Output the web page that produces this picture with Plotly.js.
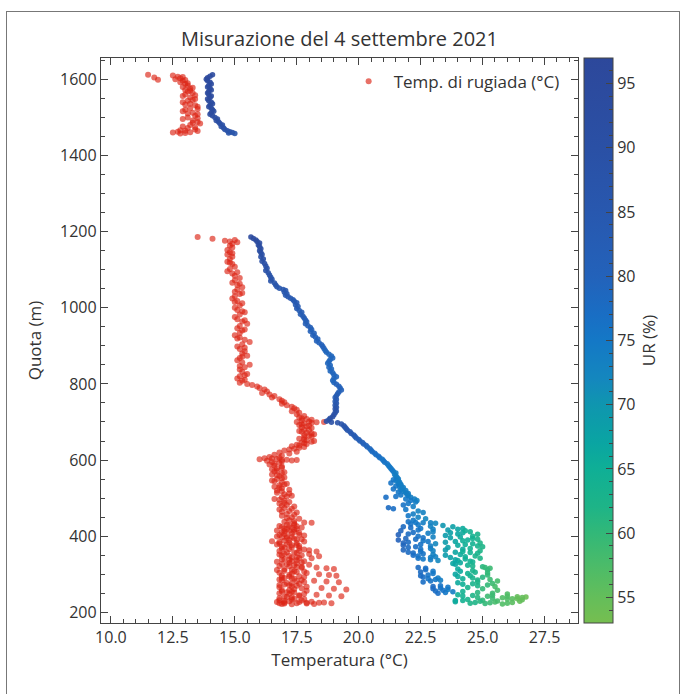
<!DOCTYPE html>
<html>
<head>
<meta charset="utf-8">
<script src="https://cdn.plot.ly/plotly-3.0.1.min.js"></script>
<style>
html,body{margin:0;padding:0;background:#fff;overflow:hidden;}
#chart{position:absolute;left:0;top:0;width:684px;height:694px;}
#frame{position:absolute;left:6px;top:11px;width:672px;height:700px;border:1px solid #777;pointer-events:none;}
</style>
</head>
<body>
<div id="chart"></div>
<div id="frame"></div>
<script>
// ---- Temperatura di rugiada (°C): [quota m, Td] ----
const rugiadaAlta = [
 [1612,11.5],[1605,11.75],[1599,11.9],
 [1610,12.5],[1607,12.7],[1603,12.8],[1600,12.6],[1596,12.9],[1592,12.8],[1588,13.0],[1584,13.1],
 [1580,12.9],[1576,13.2],[1572,13.0],[1568,13.1],[1564,13.3],[1560,13.0],[1556,12.9],[1552,13.2],
 [1548,13.4],[1544,13.1],[1540,12.9],[1536,13.2],[1532,13.4],[1528,13.5],[1524,13.2],[1520,13.0],
 [1516,12.9],[1512,13.3],[1508,13.5],[1504,13.4],[1500,13.1],[1496,12.9],[1492,13.3],[1488,13.5],
 [1484,13.6],[1480,13.2],[1476,12.9],[1472,13.1],[1468,13.4],[1465,13.0],[1462,12.7],[1460,12.5],
 [1458,12.8],[1461,13.2],[1464,13.5],
 [1606,12.9],[1598,13.0],[1590,13.1],[1578,13.3],[1570,13.2],[1558,13.4],[1546,13.3],[1534,13.0],
 [1522,13.5],[1510,13.1],[1498,13.5],[1486,13.3],[1474,13.4],[1466,12.8],[1459,13.0]
];
const rugiadaMedia = [
 [1186,13.5],[1181,14.1],[1176,14.6],[1178,15.0],[1172,15.1],[1168,14.9],[1163,14.8],[1158,14.9],
 [1152,14.7],[1146,14.8],[1140,14.7],[1134,14.9],[1128,14.8],[1121,14.7],[1115,14.9],[1108,15.0],
 [1102,14.8],[1096,14.7],[1090,14.9],[1084,15.0],[1078,15.2],[1072,15.0],[1066,14.9],[1060,15.1],
 [1054,15.3],[1048,15.1],[1042,15.0],[1036,15.2],[1030,15.0],[1024,14.9],[1018,15.1],[1012,15.3],
 [1006,15.2],[1000,15.0],[994,15.1],[988,15.4],[982,15.2],[976,15.0],[970,15.1],[964,15.3],
 [958,15.5],[952,15.2],[946,15.1],[940,15.3],[934,15.2],[928,15.0],[922,15.2],[916,15.4],
 [910,15.6],[904,15.3],[898,15.1],[892,15.2],[886,15.4],[880,15.3],[874,15.5],[868,15.2],
 [862,15.1],[856,15.3],[850,15.6],[844,15.4],[838,15.2],[832,15.3],[826,15.5],[820,15.2],
 [814,15.1],[808,15.3],[803,15.2],[800,15.5],[797,15.7],[793,15.9],[789,16.0],[785,16.2],
 [780,16.3],[776,16.1],[772,16.4],[768,16.6],[764,16.5],[760,16.8],[756,16.9],[752,17.0],
 [748,16.9],[744,17.1],[740,17.3],[736,17.4],[732,17.5],[728,17.3],[724,17.6],[720,17.5],
 [716,17.8],[712,17.6],[708,17.9],[704,17.7],[700,17.5],[701,18.0],[699,18.3],[700,18.6],
 [696,17.8],[692,17.6],[688,17.9],[684,18.1],[680,17.8],[676,17.6],[672,17.9],[668,18.2],
 [664,18.0],[660,17.8],[656,17.6],[652,17.9],[648,18.1],[644,17.8],[640,17.5],[636,17.3],
 [632,17.6],[628,17.2],[625,17.0],[622,17.5],[620,16.8],[617,17.2],[614,16.6],[611,16.9],
 [608,16.4],[605,16.2],[603,16.7],[601,17.1],[600,17.5],[598,16.3],[595,16.5],[592,16.8],
 [588,16.4],[585,16.6],[580,16.9],[576,16.5],[572,16.7],
 [1174,14.8],[1143,14.9],[1118,14.8],[1093,15.1],[1063,15.2],[1039,15.3],[1015,15.0],[991,15.3],
 [967,15.4],[943,15.4],[919,15.1],[895,15.4],[871,15.3],[847,15.2],[823,15.4],[811,15.4],
 [710,17.7],[706,18.1],[698,18.1],[694,17.7],[690,18.0],[686,17.7],[678,18.0],[674,17.7],
 [670,18.1],[666,17.8],[662,18.1],[654,17.8],[650,18.2],[646,17.7],[642,17.9],[638,17.6],
 [634,17.8],[630,17.4],[602,16.0],[604,16.5],[600,16.9],[599,17.3],[606,16.8],[596,16.9],
 [590,16.6],[583,16.9],[578,16.7]
];
const rugiadaBassa = [
 [570,16.6],[566,16.9],[562,16.5],[558,16.8],[554,17.0],[550,16.7],[546,16.5],[542,16.9],
 [538,17.1],[534,16.8],[530,16.6],[526,16.9],[522,17.2],[518,16.9],[514,16.7],[510,17.0],
 [506,17.3],[502,16.9],[498,16.6],[494,17.0],[490,17.2],[486,16.8],[482,17.1],[478,17.4],
 [474,17.0],[470,16.8],[466,17.2],[462,17.5],[458,17.1],[454,16.9],[450,17.3],[446,17.6],
 [442,17.2],[438,17.0],[435,18.1],[436,17.8],[434,17.4],[430,17.1],[426,17.5],[422,17.3],
 [420,17.0],[417,17.4],[414,17.2],[410,16.9],[407,17.3],[404,17.6],[400,17.1],[397,16.9],
 [394,17.4],[390,17.2],[387,16.5],[385,16.8],[382,17.5],[379,17.1],[376,17.3],[372,16.9],
 [369,17.6],[366,17.2],[363,18.0],[360,18.3],[357,17.4],[354,17.0],[350,17.7],[347,18.4],
 [344,17.3],[340,17.0],[337,17.5],[334,17.8],[330,17.2],[327,16.9],[324,17.4],[320,17.7],
 [318,18.3],[316,18.7],[314,19.0],[312,17.3],[309,17.0],[306,17.5],[303,17.9],[300,18.4],
 [298,18.8],[296,19.1],[294,17.2],[291,16.9],[288,17.4],[285,17.7],[283,18.2],[281,18.7],
 [279,19.2],[276,17.3],[273,17.0],[270,17.5],[267,17.9],[264,18.5],[262,19.0],[260,19.5],
 [258,17.2],[255,16.9],[252,17.4],[249,17.8],[246,18.3],[244,18.8],[242,19.3],[240,17.1],
 [237,16.8],[234,17.3],[231,17.7],[228,18.1],[226,17.0],[224,17.5],[222,16.9],[221,17.3],
 [223,17.9],[225,18.4],
 [428,17.2],[424,16.9],[419,17.5],[413,17.0],[409,17.6],[403,16.8],[398,17.3],[392,17.7],
 [388,17.0],[381,16.8],[377,17.5],[371,17.3],[367,16.9],[362,17.6],[358,17.1],[352,16.8],
 [348,17.2],[343,17.6],[339,16.9],[335,17.3],[331,17.7],[326,17.1],[322,16.8],[319,17.5],
 [313,17.0],[308,17.4],[304,16.8],[299,17.2],[295,17.6],[290,17.0],[286,16.8],[282,17.5],
 [277,17.1],[272,16.8],[268,17.3],[263,17.7],[259,16.9],[254,17.3],[250,16.8],[245,17.6],
 [241,17.0],[236,17.4],[232,16.8],[229,17.2],[227,17.6],[224,16.8],[223,17.0],
 [430,17.4],[427,16.8],[423,17.7],[418,17.1],[415,16.7],[411,17.4],[406,17.0],[402,17.8],
 [399,16.7],[395,17.1],[391,17.5],[386,17.8],[383,17.2],[378,16.7],[374,17.6],[370,17.0],
 [365,17.8],[361,16.8],[356,17.5],[353,18.0],[349,16.9],[345,17.5],[342,18.1],[338,17.2],
 [333,16.7],[329,17.5],[325,18.0],[321,17.2],[317,17.7],[311,16.7],[307,17.8],[302,17.3],
 [297,16.9],[293,17.8],[289,17.3],[284,16.9],[280,17.8],[275,17.6],[271,17.2],[266,16.8],
 [261,17.4],[257,17.9],[253,17.1],[248,17.2],[243,17.6],[239,17.3],[235,17.8],[230,17.0],
 [227,16.7],[225,17.9],[222,18.2],[226,18.6],[224,18.9],
 [568,17.0],[560,16.7],[552,16.9],[544,16.6],[536,17.0],[528,16.8],[520,16.7],[512,17.2],
 [504,17.1],[496,16.8],[488,17.0],[480,16.9],[472,17.3],[464,16.9],[456,17.4],[448,17.1],[440,17.4]
];

// ---- Temperatura (°C) con umidità relativa UR (%): [quota m, T, UR] ----
const ariaAlta = [
 [1612,14.1,95],[1608,14.0,95],[1604,13.9,96],[1600,13.85,96],[1596,13.9,95],[1592,14.0,95],
 [1588,14.05,94],[1584,13.95,95],[1580,13.9,95],[1576,14.0,94],[1572,14.05,94],[1568,13.95,95],
 [1564,13.9,95],[1560,13.95,94],[1556,14.05,94],[1552,14.0,94],[1548,13.9,95],[1544,13.95,94],
 [1540,14.05,93],[1536,14.1,93],[1532,14.0,94],[1528,13.95,94],[1524,14.05,93],[1520,14.1,93],
 [1516,14.15,93],[1512,14.05,93],[1508,14.0,94],[1504,14.1,93],[1500,14.2,92],[1496,14.3,92],
 [1492,14.25,92],[1488,14.35,91],[1484,14.4,91],[1480,14.5,90],[1476,14.45,90],[1472,14.55,90],
 [1468,14.6,89],[1465,14.7,89],[1462,14.8,88],[1460,14.9,88],[1458,15.0,87],[1459,14.75,88]
];
const ariaMedia = [
 [1186,15.65,95],[1182,15.75,95],[1178,15.85,94],[1174,15.9,94],[1170,16.0,93],[1165,15.95,93],
 [1160,16.0,93],[1155,16.05,92],[1150,16.0,92],[1145,16.05,92],[1140,16.1,91],[1134,16.05,91],
 [1128,16.15,91],[1122,16.1,90],[1116,16.2,90],[1110,16.25,90],[1104,16.3,89],[1098,16.25,89],
 [1092,16.35,89],[1086,16.4,88],[1080,16.45,88],[1075,16.5,88],[1070,16.45,88],[1065,16.6,87],
 [1060,16.65,87],[1055,16.7,87],[1051,16.8,86],[1048,16.95,86],[1045,17.05,86],[1041,17.0,86],
 [1037,17.1,85],[1033,17.05,85],[1029,17.15,85],[1025,17.25,85],[1021,17.35,84],[1017,17.4,84],
 [1013,17.5,84],[1008,17.45,84],[1003,17.55,84],[998,17.5,84],[993,17.6,83],[988,17.7,83],
 [983,17.65,83],[978,17.75,83],[973,17.8,83],[968,17.85,82],[963,17.9,82],[958,17.85,82],
 [953,17.95,82],[948,18.05,82],[943,18.1,81],[938,18.05,81],[933,18.2,81],[928,18.15,81],
 [923,18.25,81],[918,18.35,80],[913,18.3,80],[908,18.4,80],[903,18.5,80],[898,18.55,80],
 [893,18.6,80],[888,18.65,79],[883,18.7,79],[878,18.8,79],[873,18.9,79],[868,18.95,79],
 [864,18.85,79],[859,18.8,79],[854,18.75,79],[849,18.85,79],[844,18.8,79],[839,18.9,79],
 [834,18.85,79],[829,18.95,79],[824,19.0,79],[819,19.1,79],[814,19.0,79],[809,18.95,79],
 [804,19.0,79],[799,19.1,80],[794,19.2,80],[789,19.25,80],[784,19.3,81],[779,19.2,81],
 [774,19.15,82],[769,19.1,83],[764,19.05,83],[759,19.1,84],[754,19.05,84],[749,19.1,85],
 [744,19.05,86],[739,19.1,87],[734,19.05,88],[729,19.1,88],[724,19.05,89],[719,19.0,89],
 [714,18.95,90],[710,18.85,90],[706,18.8,90],[702,18.7,90],[699,18.9,90],[698,19.15,89],
 [695,19.3,88],[690,19.4,87],[686,19.45,87],[682,19.5,86],[678,19.55,86],[674,19.65,85],
 [670,19.7,85],[666,19.8,84],[662,19.85,84],[658,19.9,83],[654,20.0,82],[650,20.05,82],
 [646,20.15,81],[642,20.2,80],[638,20.3,80],[634,20.35,79],[630,20.45,79],[626,20.5,78],
 [622,20.55,78],[618,20.65,78],[614,20.7,77],[610,20.8,77],[606,20.85,77],[602,20.95,76],
 [598,21.0,76],[594,21.05,76],[590,21.15,76],[586,21.2,75],[582,21.25,75],[578,21.3,75],
 [574,21.35,75],[570,21.4,75],[566,21.5,74],[562,21.45,74],[558,21.5,74],[554,21.55,74],
 [550,21.6,74],[546,21.5,74],[542,21.65,74],[538,21.6,74],[534,21.7,74],[530,21.65,74],
 [526,21.75,74],[522,21.7,74],[518,21.8,74],[514,21.9,74],[510,21.95,74],[506,22.0,74],
 [502,22.1,74],[498,22.25,74],[494,22.35,73],
 [548,21.4,75],[544,21.6,74],[540,21.3,76],[536,21.7,74],[532,21.5,75],[528,21.8,74],
 [524,21.4,76],[520,21.9,74],[516,21.6,75],[512,22.0,74],[508,21.7,75],[504,21.5,76],[502,21.1,77]
];
const ariaBassa = [
 [498,21.9,75],[494,22.1,75],[490,22.3,74],[486,22.0,75],[482,21.8,76],[478,22.2,74],[475,21.2,78],
 [472,21.4,77],[470,21.9,75],[466,22.4,73],[462,22.6,73],[458,22.2,74],[454,22.0,75],[450,22.4,73],
 [446,22.7,72],[438,22.0,76],[436,22.3,75],[435,22.6,74],[435,22.9,73],[434,23.1,72],[432,22.1,76],
 [425,21.8,78],[420,22.5,75],[418,23.0,73],[414,21.7,79],[410,22.2,77],[408,22.8,74],[404,21.6,80],
 [400,22.4,76],[398,23.0,73],[394,21.9,79],[390,21.6,80],[388,22.6,75],[384,22.0,78],[380,23.1,72],
 [376,21.8,79],[372,22.3,77],[368,22.9,74],[364,21.8,79],[360,22.5,76],[356,22.2,77],[352,23.0,73],
 [348,22.4,76],[344,22.9,74],[340,22.6,75],[336,23.2,72],
 [428,23.4,70],[425,23.8,68],[420,24.2,66],[416,23.6,69],[412,24.5,64],[409,23.7,68],[409,24.2,66],
 [405,24.8,63],[402,23.5,69],[398,24.1,66],[394,24.6,64],[390,24.4,65],[386,23.9,67],[382,24.9,62],
 [378,24.3,65],[374,24.8,63],[370,23.6,68],[366,24.2,66],[362,24.9,62],[358,23.9,67],[357,24.5,64],
 [352,24.1,66],[348,24.7,63],[344,23.7,68],[340,24.3,65],[336,24.0,66],[332,24.6,64],
 [318,22.4,78],[312,22.7,77],[306,22.5,78],[302,23.0,75],[298,22.8,76],[293,22.6,77],[290,23.2,74],
 [286,23.1,75],[282,22.9,76],
 [268,23.0,78],[264,23.3,76],[260,23.6,74],[256,23.1,77],[252,23.5,75],
 [328,23.8,67],[324,24.4,64],[320,25.0,61],[316,25.3,59],[312,25.2,60],[308,24.1,66],[305,24.7,63],
 [300,23.9,67],[296,24.5,64],[292,25.0,61],[288,24.2,65],[285,24.8,62],[282,25.6,58],[278,24.0,66],
 [275,24.6,63],[272,25.2,60],
 [265,24.4,63],[262,25.0,60],[258,25.6,58],[255,24.2,64],[252,24.8,61],[250,25.4,59],[248,26.0,57],
 [246,24.0,65],[244,24.6,62],[242,25.2,59],[241,26.4,55],[240,26.75,54],[238,25.8,57],[236,26.2,56],
 [234,24.4,63],[232,25.0,60],[230,25.6,58],[229,26.5,55],[228,23.9,66],[226,24.7,62],[225,25.3,59],
 [224,26.0,57],
 [243,24.2,64],[239,24.8,61],[237,25.4,59],[235,26.0,57],[233,26.6,55],[231,24.2,64],[229,24.9,61],
 [227,25.5,58],[226,26.2,56],[224,24.5,62],[223,25.1,60],[222,25.8,57],[231,23.9,66],[236,26.4,55],
 [239,26.6,55],[242,26.0,57],[245,25.4,59],
 [418,24.0,67],[414,24.3,65],[406,24.0,67],[400,24.6,64],[396,23.7,68],[392,24.8,63],[388,24.2,65],
 [384,23.5,69],[380,24.6,64],[376,24.0,66],[372,25.0,62],[368,24.5,64],[364,23.5,69],[360,24.2,65],
 [355,24.8,63],[350,23.5,69],[346,24.3,65],[342,24.9,62],[338,23.9,67],[334,24.5,64],[330,24.1,66],
 [442,22.2,75],[430,22.4,75],[426,22.9,73],[422,22.1,77],[416,22.4,76],[412,23.0,73],[406,22.0,78],
 [396,22.6,76],[392,22.3,77],[386,22.8,75],[382,21.8,79],[378,22.5,76],[374,22.9,74],[370,22.0,78],
 [366,22.5,76],[362,23.0,73],[358,22.0,78],[354,22.6,76],[350,22.2,77],[346,23.1,73],[342,22.4,76],
 [338,22.9,74],
 [326,23.9,67],[322,24.6,63],[318,25.1,60],[314,24.0,66],[310,24.6,63],[304,25.2,60],[302,24.4,64],
 [298,25.2,60],[294,24.0,66],[290,24.6,63],[286,25.3,59],[280,24.8,62],[276,25.4,59],[274,24.2,65],
 [270,24.8,62],[268,25.5,58],
 [316,22.7,77],[308,23.0,75],[296,22.5,78],[288,22.8,76],[284,23.3,74],[280,22.6,77],[270,23.3,76],
 [266,23.6,75],[262,23.0,78],[258,23.4,76],[254,23.8,74],[250,23.2,77]
];

const xTicks = [10, 12.5, 15, 17.5, 20, 22.5, 25, 27.5];
const urTicks = [55, 60, 65, 70, 75, 80, 85, 90, 95];
const urMin = 53, urMax = 97;

const rug = rugiadaAlta.concat(rugiadaMedia, rugiadaBassa);
const aria = ariaAlta.concat(ariaMedia, ariaBassa);

const urScale = [
 [0,'rgb(118,190,80)'],[0.045,'rgb(100,190,90)'],[0.091,'rgb(80,188,102)'],[0.159,'rgb(50,184,120)'],
 [0.205,'rgb(30,180,135)'],[0.273,'rgb(15,175,150)'],[0.318,'rgb(10,165,162)'],[0.386,'rgb(15,150,175)'],
 [0.432,'rgb(20,135,190)'],[0.5,'rgb(20,120,198)'],[0.545,'rgb(25,110,196)'],[0.614,'rgb(35,98,186)'],
 [0.727,'rgb(40,88,175)'],[0.841,'rgb(42,80,165)'],[1,'rgb(45,72,155)']
];

const FONT = 'Open Sans, DejaVu Sans, sans-serif';
const TXT = '#333';
const AX = '#444';

const traces = [
 {
  type:'scatter', mode:'markers', name:'Temp. di rugiada (°C)',
  x: rug.map(p=>p[1]), y: rug.map(p=>p[0]),
  marker:{size:6, color:'rgba(220,35,20,0.65)', line:{width:0}},
  showlegend:true
 },
 {
  type:'scatter', mode:'markers', name:'Temperatura',
  x: aria.map(p=>p[1]), y: aria.map(p=>p[0]),
  marker:{size:5.5, color: aria.map(p=>p[2]), cmin:urMin, cmax:urMax, colorscale:urScale,
   line:{width:0}, opacity:0.9,
   showscale:true,
   colorbar:{x:1.0126, xanchor:'left', xpad:0, ypad:0, thickness:29, len:565, lenmode:'pixels',
    y:0.5, yanchor:'middle', outlinewidth:1, outlinecolor:AX,
    tickmode:'array', tickvals:urTicks, ticks:'inside', ticklen:7, tickcolor:AX, tickwidth:1,
    tickfont:{family:FONT, size:16, color:TXT},
    title:{text:'UR (%)', side:'right', font:{family:FONT, size:17, color:TXT}}}
  },
  showlegend:false
 },
 {
  type:'scatter', mode:'markers', name:'minor',
  x: aria.map(p=>p[1]), y: aria.map(p=>p[0]), hoverinfo:'skip',
  marker:{size:5, opacity:0, color: aria.map(p=>p[2]), cmin:urMin, cmax:urMax,
   colorscale:[[0,'rgba(0,0,0,0)'],[1,'rgba(0,0,0,0)']], showscale:true,
   colorbar:{x:1.0126, xanchor:'left', xpad:0, ypad:0, thickness:29, len:565, lenmode:'pixels',
    y:0.5, yanchor:'middle', outlinewidth:0,
    tickmode:'linear', tick0:53, dtick:1, ticks:'inside', ticklen:4, tickcolor:AX, tickwidth:1,
    showticklabels:false}
  },
  showlegend:false
 }
];

const layout = {
 width:684, height:694,
 margin:{l:101, r:106, t:58, b:71, pad:0},
 paper_bgcolor:'rgba(0,0,0,0)', plot_bgcolor:'#fff',
 font:{family:FONT, color:TXT},
 title:{text:'Misurazione del 4 settembre 2021', x:0.5, xref:'paper', xanchor:'center',
  y:1-39/694, yref:'container', yanchor:'middle', font:{family:FONT, size:20, color:TXT}},
 xaxis:{range:[9.6,28.85], tickmode:'array', tickvals:xTicks, tickformat:'.1f',
  ticks:'inside', ticklen:7, tickwidth:1, tickcolor:AX, mirror:'allticks', showline:true,
  linecolor:AX, linewidth:1.2, showgrid:false, zeroline:false,
  minor:{tick0:0, dtick:0.5, ticks:'inside', ticklen:4, tickcolor:AX, tickwidth:1, showgrid:false},
  tickfont:{family:FONT, size:16, color:TXT},
  title:{text:'Temperatura (°C)', font:{family:FONT, size:17, color:TXT}, standoff:6}},
 yaxis:{range:[172,1656], tick0:0, dtick:200,
  ticks:'inside', ticklen:7, tickwidth:1, tickcolor:AX, mirror:'allticks', showline:true,
  linecolor:AX, linewidth:1.2, showgrid:false, zeroline:false,
  minor:{tick0:0, dtick:50, ticks:'inside', ticklen:4, tickcolor:AX, tickwidth:1, showgrid:false},
  tickfont:{family:FONT, size:16, color:TXT},
  title:{text:'Quota (m)', font:{family:FONT, size:17, color:TXT}, standoff:14}},
 legend:{x:0.972, xanchor:'right', y:0.99, yanchor:'top', bgcolor:'rgba(0,0,0,0)',
  itemwidth:40, font:{family:FONT, size:17, color:TXT}},
 showlegend:true
};

Plotly.newPlot('chart', traces, layout, {staticPlot:true, displayModeBar:false});
</script>
</body>
</html>
